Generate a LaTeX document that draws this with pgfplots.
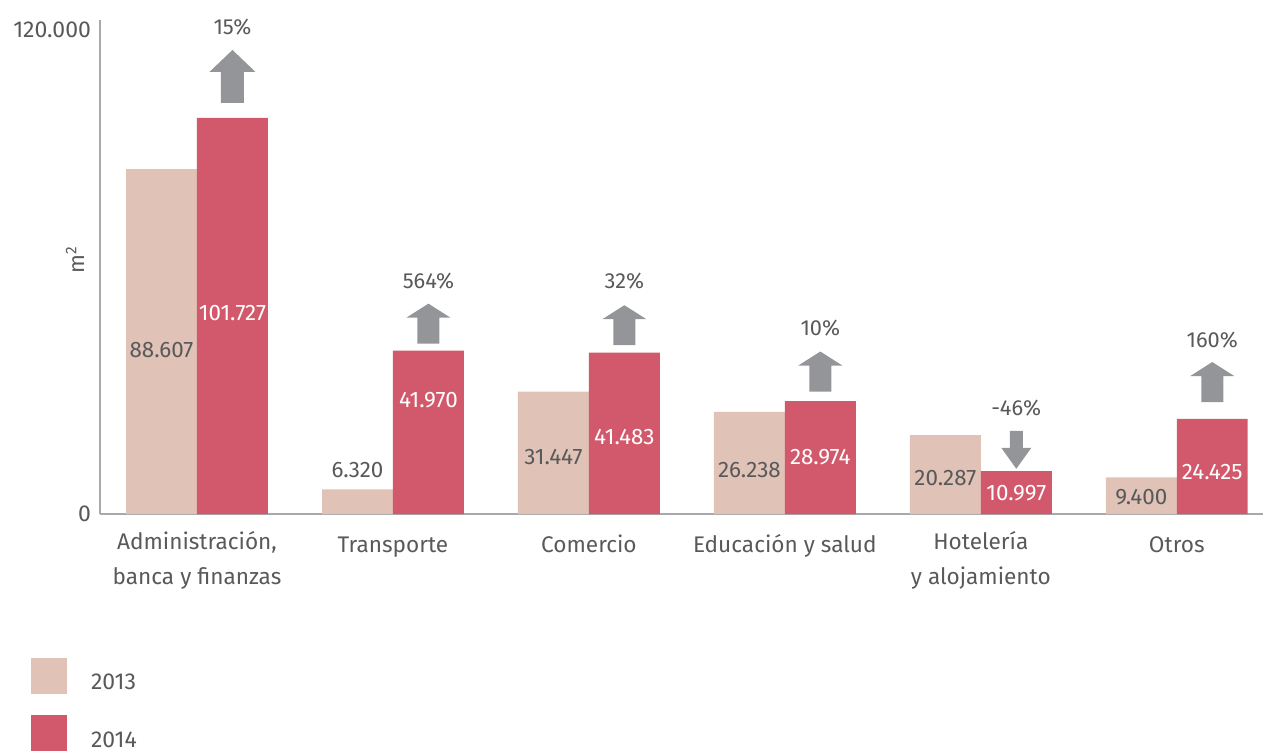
\documentclass[border=0pt]{standalone}
\usepackage{pgfplots}
\pgfplotsset{compat=1.18}
\usepackage{fontspec}
\setmainfont{Fira Sans}
\definecolor{cA}{HTML}{E0C2B7}
\definecolor{cB}{HTML}{D2596B}
\definecolor{ag}{HTML}{939598}
\definecolor{tg}{HTML}{58595B}
\definecolor{axg}{HTML}{A7A9AC}

\pgfdeclareplotmark{arrowup}{%
 \pgfpathmoveto{\pgfpoint{0pt}{10pt}}%
 \pgfpathlineto{\pgfpoint{11pt}{3pt}}%
 \pgfpathlineto{\pgfpoint{5.5pt}{3pt}}%
 \pgfpathlineto{\pgfpoint{5.5pt}{-10pt}}%
 \pgfpathlineto{\pgfpoint{-5.5pt}{-10pt}}%
 \pgfpathlineto{\pgfpoint{-5.5pt}{3pt}}%
 \pgfpathlineto{\pgfpoint{-11pt}{3pt}}%
 \pgfpathclose
 \pgfusepathqfill}
\pgfdeclareplotmark{bigarrowup}{%
 \pgfpathmoveto{\pgfpoint{0pt}{13.25pt}}%
 \pgfpathlineto{\pgfpoint{11.5pt}{2.25pt}}%
 \pgfpathlineto{\pgfpoint{5.75pt}{2.25pt}}%
 \pgfpathlineto{\pgfpoint{5.75pt}{-13.25pt}}%
 \pgfpathlineto{\pgfpoint{-5.75pt}{-13.25pt}}%
 \pgfpathlineto{\pgfpoint{-5.75pt}{2.25pt}}%
 \pgfpathlineto{\pgfpoint{-11.5pt}{2.25pt}}%
 \pgfpathclose
 \pgfusepathqfill}
\pgfdeclareplotmark{arrowdown}{%
 \pgfpathmoveto{\pgfpoint{0pt}{-9.5pt}}%
 \pgfpathlineto{\pgfpoint{7.5pt}{1pt}}%
 \pgfpathlineto{\pgfpoint{3.25pt}{1pt}}%
 \pgfpathlineto{\pgfpoint{3.25pt}{9.5pt}}%
 \pgfpathlineto{\pgfpoint{-3.25pt}{9.5pt}}%
 \pgfpathlineto{\pgfpoint{-3.25pt}{1pt}}%
 \pgfpathlineto{\pgfpoint{-7.5pt}{1pt}}%
 \pgfpathclose
 \pgfusepathqfill}

\begin{document}
\begin{tikzpicture}
\useasboundingbox (-50pt,-118.5pt) rectangle (581.5pt,257pt);
\begin{axis}[
  at={(0,0)}, anchor=south west,
  scale only axis, width=581.5pt, height=247pt,
  xmin=-0.495, xmax=5.44, ymin=0, ymax=126900,
  axis x line*=bottom, axis y line*=left,
  axis line style={-, draw=axg, line width=1pt},
  major tick length=0pt,
  scaled y ticks=false,
  xtick={0,1,2,3,4,5},
  xticklabels={{Administración,\\[2.5pt]banca y finanzas},Transporte,Comercio,{Educación y salud},{Hotelería\\[2.5pt]y alojamiento},Otros},
  xticklabel style={align=center, font=\fontsize{11.3}{15}\selectfont, text=tg, yshift=-5pt,
    execute at begin node=\strut},
  ytick={0,124500}, yticklabels={0,120.000},
  yticklabel style={font=\fontsize{11.5}{13}\selectfont, text=tg, xshift=-1pt},
  ylabel={m\textsuperscript{2}},
  ylabel style={at={(axis description cs:-0.0215,0.514)}, anchor=center, font=\fontsize{11}{13}\selectfont, text=tg},
  clip=false,
  legend style={at={(axis description cs:-0.0593,-0.2905)}, anchor=north west, draw=none, fill=none,
    inner sep=0pt, outer sep=0pt, row sep=9pt, font=\fontsize{11.5}{13}\selectfont, text=tg,
    /tikz/every odd column/.append style={column sep=10pt}},
  legend cell align=left,
]
\addplot[ybar, bar width=0.362, bar shift=-0.181, fill=cA, draw=none,
  legend image code/.code={\fill[cA] (0pt,-5pt) rectangle (18pt,13pt);}]
  coordinates {(0,88607) (1,6320) (2,31447) (3,26238) (4,20287) (5,9400)};
\addlegendentry{2013}
\addplot[ybar, bar width=0.362, bar shift=0.181, fill=cB, draw=none,
  legend image code/.code={\fill[cB] (0pt,-5pt) rectangle (18pt,13pt);}]
  coordinates {(0,101727) (1,41970) (2,41483) (3,28974) (4,10997) (5,24425)};
\addlegendentry{2014}

% value labels 2013
\addplot[forget plot, only marks, mark=text, text mark={}, nodes near coords, point meta=explicit symbolic,
  nodes near coords style={anchor=center, text=tg, font=\fontsize{11.2}{12}\selectfont, inner sep=0pt}]
  coordinates {(-0.181,42100)[88.607] (0.819,11300)[6.320] (1.819,14600)[31.447] (2.819,11300)[26.238] (3.819,9200)[20.287] (4.819,4400)[9.400]};
% value labels 2014
\addplot[forget plot, only marks, mark=text, text mark={}, nodes near coords, point meta=explicit symbolic,
  nodes near coords style={anchor=center, text=white, font=\fontsize{11.2}{12}\selectfont, inner sep=0pt}]
  coordinates {(0.181,51700)[101.727] (1.181,29300)[41.970] (2.181,19800)[41.483] (3.181,14600)[28.974] (4.181,5400)[10.997] (5.181,10800)[24.425]};
% change labels
\addplot[forget plot, only marks, mark=text, text mark={}, nodes near coords, point meta=explicit symbolic,
  nodes near coords style={anchor=center, text=tg, font=\fontsize{10.9}{12}\selectfont, inner sep=0pt}]
  coordinates {(0.181,125100)[15\%] (1.181,59900)[564\%] (2.181,59900)[32\%] (3.181,47800)[10\%] (4.181,27200)[-46\%] (5.181,44700)[160\%]};
% arrows
\addplot[forget plot, only marks, mark=bigarrowup, mark options={fill=ag, draw=none}]
  coordinates {(0.181,112400)};
\addplot[forget plot, only marks, mark=arrowup, mark options={fill=ag, draw=none}]
  coordinates {(1.181,48900) (2.181,48500) (3.181,36600) (5.181,33900)};
\addplot[forget plot, only marks, mark=arrowdown, mark options={fill=ag, draw=none}]
  coordinates {(4.181,16500)};
\end{axis}
\end{tikzpicture}
\end{document}
